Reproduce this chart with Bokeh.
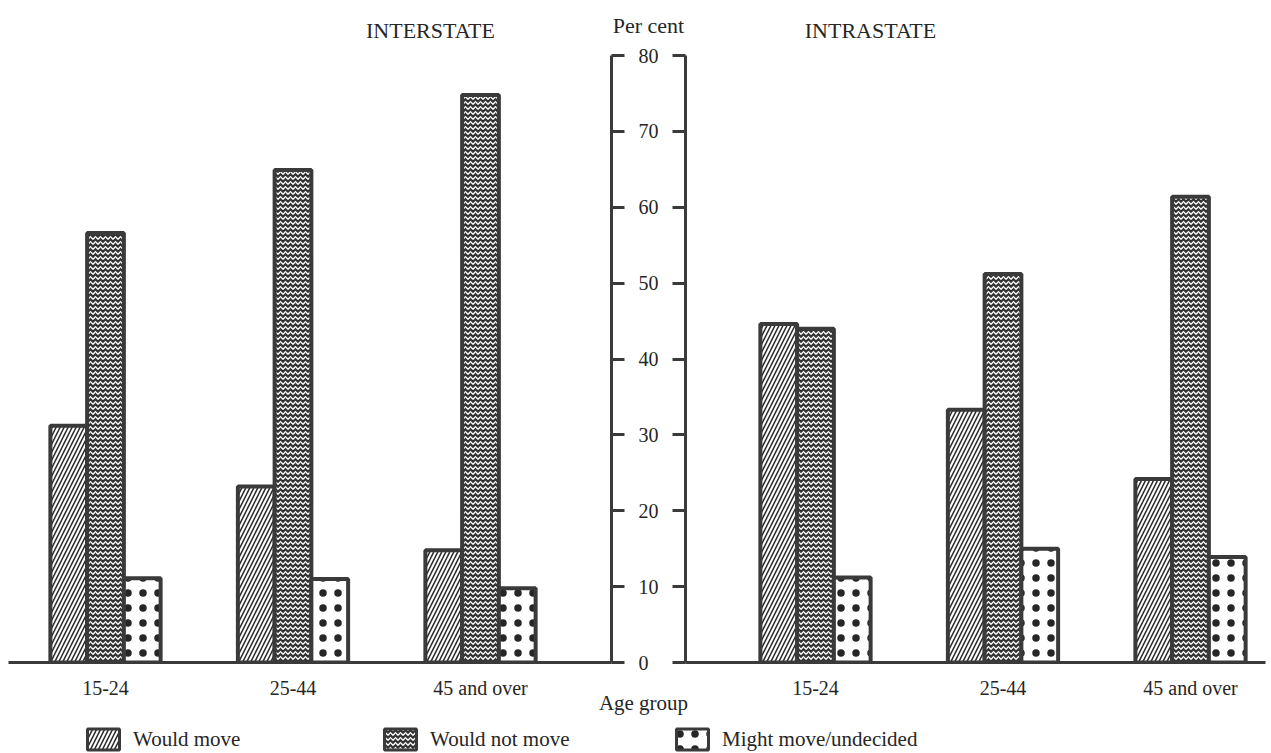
import numpy as np
from bokeh.plotting import figure
from bokeh.models import Range1d, FixedTicker, Label, Legend, LegendItem, ColumnDataSource
from bokeh.layouts import column, row
from bokeh.embed import file_html
from bokeh.resources import INLINE

# ---------------- data ----------------
groups = ["15-24", "25-44", "45 and over"]
series = ["Would move", "Would not move", "Might move/undecided"]

interstate_would_move = [31.2, 23.2, 14.8]
interstate_would_not_move = [56.6, 64.9, 74.8]
interstate_might_move = [11.1, 11.0, 9.8]

intrastate_would_move = [44.6, 33.3, 24.2]
intrastate_would_not_move = [44.0, 51.2, 61.4]
intrastate_might_move = [11.2, 15.0, 13.9]

y_ticks = [0, 10, 20, 30, 40, 50, 60, 70, 80]
panel_titles = ["INTERSTATE", "INTRASTATE"]
y_title = "Per cent"
x_title = "Age group"

# ---------------- style ----------------
FONT = "Liberation Serif"
FS = "20px"
FS_BIG = "21px"
INK = "#262626"
EDGE = "#3a3a3a"
BW = 0.196            # bar width in group units
PX_PER_UNIT = 187.5   # horizontal spacing of groups

bar_styles = [
    dict(fill_color="white", hatch_pattern="/", hatch_color=INK, hatch_scale=8, hatch_weight=1.5),
    dict(fill_color="#333333", hatch_pattern="horizontal_wave", hatch_color="white", hatch_scale=5, hatch_weight=1.3),
    dict(fill_color="white", hatch_pattern="dot", hatch_color=INK, hatch_scale=15, hatch_weight=3),
]

ROW_TOP, FRAME_H, ROW_BOTTOM = 10, 608, 38
ROW_H = ROW_TOP + FRAME_H + ROW_BOTTOM
TOP_H = 45
STRIP_OVERLAP = 14
STRIP_H = 66


def make_panel(vals, width, frame_w, first_center, y_side, b_left, b_right):
    x0 = -first_center / PX_PER_UNIT
    x1 = (frame_w - first_center) / PX_PER_UNIT
    p = figure(width=width, height=ROW_H, x_range=Range1d(x0, x1), y_range=Range1d(y_ticks[0], y_ticks[-1]),
               output_backend="svg", toolbar_location=None, y_axis_location=y_side,
               min_border_left=b_left, min_border_right=b_right,
               min_border_top=ROW_TOP, min_border_bottom=ROW_BOTTOM)
    p.outline_line_color = None
    p.grid.visible = False
    p.background_fill_color = "white"
    p.border_fill_color = "white"
    xs = np.arange(len(groups))
    src = ColumnDataSource(dict(x=xs, s0=vals[0], s1=vals[1], s2=vals[2]))
    for i, key in enumerate(["s0", "s1", "s2"]):
        src.data["x%d" % i] = xs + (i - 1) * BW
        p.vbar(x="x%d" % i, top=key, bottom=0, width=BW, source=src,
               line_color=EDGE, line_width=4, **bar_styles[i])
    # x axis
    xa = p.xaxis[0]
    xa.ticker = FixedTicker(ticks=list(range(len(groups))))
    xa.major_label_overrides = {i: g for i, g in enumerate(groups)}
    xa.axis_line_width = 3
    xa.axis_line_color = EDGE
    xa.major_tick_line_color = None
    xa.minor_tick_line_color = None
    xa.major_label_standoff = 8
    xa.major_label_text_font = FONT
    xa.major_label_text_font_size = FS
    xa.major_label_text_color = INK
    # y axis
    ya = p.yaxis[0]
    ya.ticker = FixedTicker(ticks=y_ticks)
    ya.axis_line_width = 3
    ya.axis_line_color = EDGE
    ya.major_tick_line_width = 3
    ya.major_tick_line_color = EDGE
    ya.major_tick_out = 13
    ya.major_tick_in = 0
    ya.minor_tick_line_color = None
    ya.major_label_text_font = FONT
    ya.major_label_text_font_size = FS
    ya.major_label_text_color = INK
    return p


left = make_panel([interstate_would_move, interstate_would_not_move, interstate_might_move],
                  width=668, frame_w=603, first_center=97, y_side="right", b_left=8, b_right=57)
left.yaxis[0].major_label_standoff = 14

right = make_panel([intrastate_would_move, intrastate_would_not_move, intrastate_might_move],
                   width=603, frame_w=580, first_center=130, y_side="left", b_left=17, b_right=6)
right.yaxis[0].major_label_standoff = 0
right.yaxis[0].major_label_overrides = {t: "" for t in y_ticks}


def blank_fig(w, h, **kw):
    f = figure(width=w, height=h, x_range=Range1d(0, w), y_range=Range1d(0, h),
               output_backend="svg", toolbar_location=None,
               x_axis_location=None, y_axis_location=None,
               min_border=0, min_border_left=0, min_border_right=0, min_border_top=0, min_border_bottom=0, **kw)
    f.outline_line_color = None
    f.grid.visible = False
    return f


# titles strip
top = blank_fig(1271, TOP_H)
top.background_fill_color = "white"
top.border_fill_color = "white"
for txt, xx, yy in [(panel_titles[0], 430, 15), (y_title, 648, 20), (panel_titles[1], 870, 15)]:
    top.add_layout(Label(x=xx, y=yy, text=txt, text_align="center", text_baseline="middle",
                         text_font=FONT, text_font_size="22px", text_color=INK))

# legend strip (slightly overlapping the row's bottom border, transparent)
bottom = blank_fig(1271, STRIP_H, margin=(-STRIP_OVERLAP, 0, 0, 0))
bottom.background_fill_color = None
bottom.border_fill_color = None
bottom.add_layout(Label(x=643, y=STRIP_H - 3, text=x_title, text_align="center", text_baseline="top",
                        text_font=FONT, text_font_size=FS_BIG, text_color=INK))
legend_x = [83, 380, 672]
for i, name in enumerate(series):
    # legend-only renderer (not drawn itself)
    r = bottom.vbar(x=[-5000], top=[1], bottom=[0], width=1, line_color=EDGE, line_width=3,
                    visible=False, **bar_styles[i])
    lg = Legend(items=[LegendItem(label=name, renderers=[r])], location=(legend_x[i], 1),
                orientation="horizontal", glyph_width=40, glyph_height=26, label_standoff=10,
                padding=0, margin=0, border_line_color=None, background_fill_alpha=0,
                label_text_font=FONT, label_text_font_size=FS_BIG, label_text_color=INK)
    bottom.add_layout(lg)

layout = column(top, row(left, right, spacing=0), bottom, spacing=0)

open("out.html", "w").write(file_html(layout, INLINE))
